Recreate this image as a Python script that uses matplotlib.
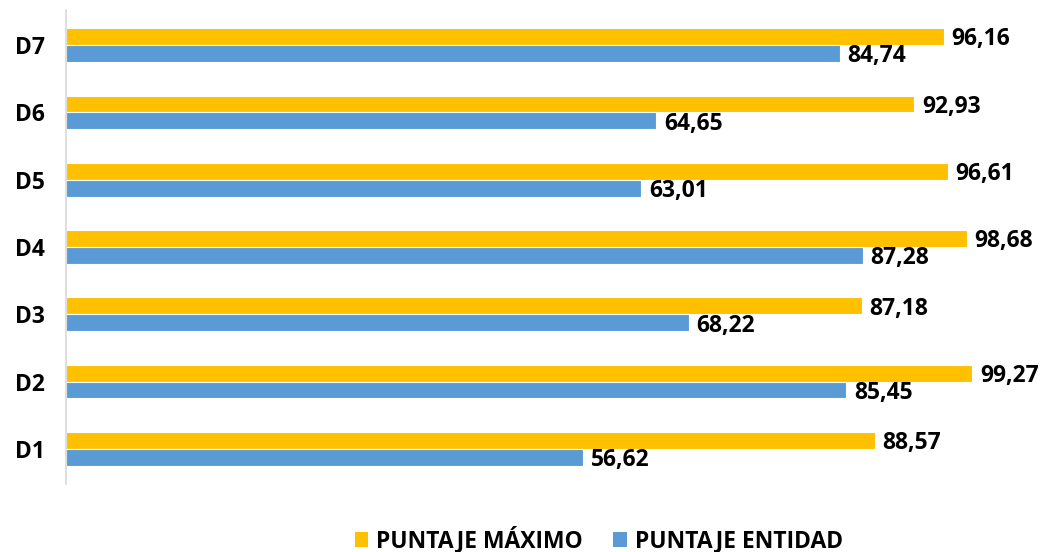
import matplotlib
matplotlib.use("Agg")
import matplotlib.pyplot as plt
import numpy as np
from matplotlib.patches import Patch

categories = ["D1", "D2", "D3", "D4", "D5", "D6", "D7"]
puntaje_maximo = [88.57, 99.27, 87.18, 98.68, 96.61, 92.93, 96.16]
puntaje_entidad = [56.62, 85.45, 68.22, 87.28, 63.01, 64.65, 84.74]
series_names = ["PUNTAJE MÁXIMO", "PUNTAJE ENTIDAD"]
colors = ["#FFC000", "#5B9BD5"]

plt.rcParams['font.family'] = ['Open Sans', 'DejaVu Sans']
FS = 16.5

fig = plt.figure(figsize=(10.43, 5.52), dpi=100)
ax = fig.add_axes([66/1043, 1-484/552, (979-66)/1043, (484-10)/552])

y = np.arange(len(categories))
h = 0.25
b1 = ax.barh(y + h/2, puntaje_maximo, height=h, color=colors[0], edgecolor="white", linewidth=0.8)
b2 = ax.barh(y - h/2, puntaje_entidad, height=h, color=colors[1], edgecolor="white", linewidth=0.8)

def fmt(v):
    return f"{v:.2f}".replace(".", ",")

for bars, vals in ((b1, puntaje_maximo), (b2, puntaje_entidad)):
    for rect, v in zip(bars, vals):
        cy = rect.get_y() + rect.get_height()/2
        ax.annotate(fmt(v), xy=(v, cy), xytext=(5.5, -2), textcoords="offset points",
                    ha="left", va="center", fontsize=FS, fontweight="bold", color="black",
                    clip_on=False)

ax.set_xlim(0, 100)
ax.set_ylim(-0.52, 6.52)
ax.set_yticks(y)
ax.set_yticklabels(categories, fontsize=FS, fontweight="bold")
ax.tick_params(axis="y", length=0, pad=15)
ax.set_xticks([])
for s in ["top", "right", "bottom"]:
    ax.spines[s].set_visible(False)
ax.spines["left"].set_color("#D9D9D9")
ax.spines["left"].set_linewidth(1.2)

handles = [Patch(facecolor=colors[0]), Patch(facecolor=colors[1])]
leg = fig.legend(handles, series_names, loc="center", bbox_to_anchor=(0.574, 1-540/552),
                 ncol=2, frameon=False, prop={"size": FS, "weight": "bold"},
                 handlelength=0.6, handleheight=0.6, handletextpad=0.35, columnspacing=1.3)

fig.savefig("out.png", dpi=100)
